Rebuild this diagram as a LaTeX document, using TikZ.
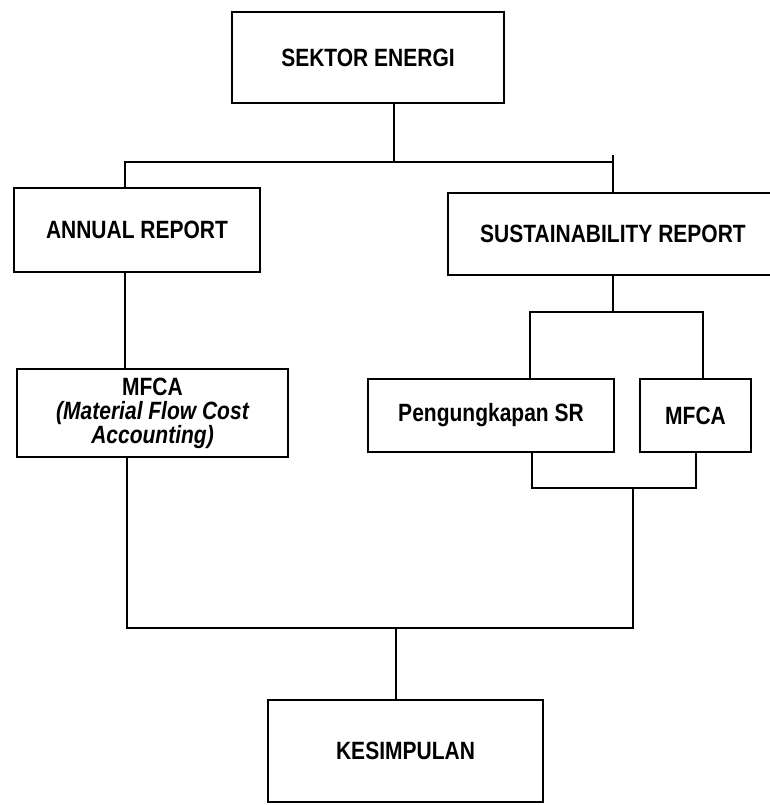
\documentclass[tikz,border=0pt]{standalone}
\usepackage{fontspec}
\setmainfont[FakeStretch=0.84]{Liberation Sans}
\begin{document}
\begin{tikzpicture}[x=1pt,y=-1pt,
  box/.style={draw, line width=1.7pt, inner sep=0pt, align=center,
    font=\bfseries\fontsize{25}{24}\selectfont},
  conn/.style={draw, line width=1.7pt}]
\useasboundingbox (0,0) rectangle (770,805);
\fill[white] (0,0) rectangle (770,805);
% boxes
\node[box, minimum width=272pt, minimum height=91pt] (sek) at (368,57.5) {SEKTOR ENERGI};
\node[box, minimum width=246pt, minimum height=84pt] (ann) at (137,230) {ANNUAL REPORT};
\node[box, minimum width=330pt, minimum height=82pt] (sr) at (613,234) {SUSTAINABILITY REPORT};
\node[box, minimum width=271pt, minimum height=88pt] (mfl) at (152.5,413)
  {MFCA\\ \itshape (Material Flow Cost\\ \itshape Accounting)};
\node[box, minimum width=246pt, minimum height=73pt] (pen) at (491,415.5) {Pengungkapan SR};
\node[box, minimum width=111pt, minimum height=73pt] (mfr) at (695.5,415.5) {MFCA};
\node[box, minimum width=275pt, minimum height=102pt] (kes) at (405.5,751) {KESIMPULAN};
% junction points
\coordinate (j1) at (394,162);
\coordinate (jl) at (125,162);
\coordinate (jr) at (613,162);
\coordinate (jrt) at (613,155);
\coordinate (b1) at (613,312);
\coordinate (b1l) at (530,312);
\coordinate (b1r) at (703,312);
\coordinate (b2l) at (532,488);
\coordinate (b2r) at (696,488);
\coordinate (b2m) at (633,488);
\coordinate (cl) at (127,628);
\coordinate (cr) at (633,628);
\coordinate (cm) at (396,628);
% connectors
\draw[conn] (sek.south -| j1) -- (j1);
\draw[conn] (ann.north -| jl) -- (jl) -- (jr);
\draw[conn] (jrt) -- (sr.north -| jrt);
\draw[conn] (ann.south -| jl) -- (mfl.north -| jl);
\draw[conn] (sr.south -| b1) -- (b1);
\draw[conn] (pen.north -| b1l) -- (b1l) -- (b1r) -- (mfr.north -| b1r);
\draw[conn] (pen.south -| b2l) -- (b2l) -- (b2r) -- (mfr.south -| b2r);
\draw[conn] (mfl.south -| cl) -- (cl) -- (cr) -- (b2m);
\draw[conn] (cm) -- (kes.north -| cm);
\end{tikzpicture}
\end{document}
